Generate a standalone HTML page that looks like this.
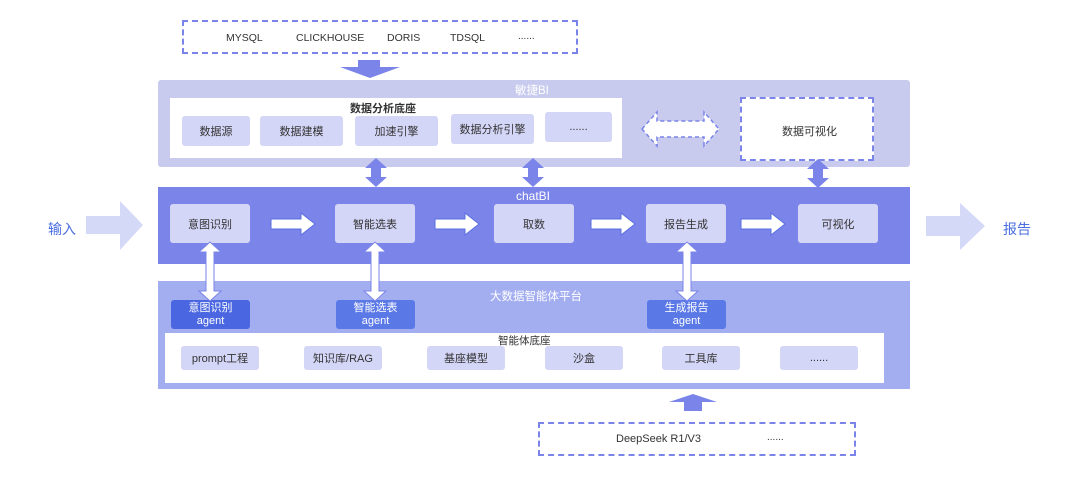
<!DOCTYPE html>
<html><head><meta charset="utf-8"><style>
*{margin:0;padding:0;box-sizing:border-box}
body{width:1080px;height:477px;background:#fff;position:relative;overflow:hidden;font-family:"Liberation Sans","Noto Sans CJK SC",sans-serif;color:#333}
.a{position:absolute}
.box{position:absolute;background:#d4d6f7;border-radius:3px;display:flex;align-items:center;justify-content:center;font-size:11px;color:#333}
.t{position:absolute;font-size:11px;text-align:center;white-space:nowrap}
.ag{position:absolute;border-radius:3px;color:#fff;font-size:11px;line-height:13px;text-align:center;display:flex;flex-direction:column;justify-content:center}
</style></head><body>
<div class="a" style="left:182px;top:20px;width:396px;height:34px;border:2px dashed #7b84e8;"></div>
<div class="t" style="left:226px;top:32px;font-size:10.5px;">MYSQL</div>
<div class="t" style="left:296px;top:32px;font-size:10.5px;">CLICKHOUSE</div>
<div class="t" style="left:387px;top:32px;font-size:10.5px;">DORIS</div>
<div class="t" style="left:450px;top:32px;font-size:10.5px;">TDSQL</div>
<div class="t" style="left:518px;top:31px;font-size:10px;">......</div>

<div class="a" style="left:158px;top:80px;width:752px;height:87px;background:#c8cbee;border-radius:3px"></div>
<div class="t" style="left:515px;top:82px;color:#fff;font-size:11.5px">敏捷BI</div>
<div class="a" style="left:170px;top:98px;width:452px;height:60px;background:#fff"></div>
<div class="t" style="left:350px;top:100px;font-weight:bold;font-size:11px">数据分析底座</div>
<div class="box" style="left:182px;top:116px;width:68px;height:30px">数据源</div>
<div class="box" style="left:260px;top:116px;width:83px;height:30px">数据建模</div>
<div class="box" style="left:355px;top:116px;width:83px;height:30px">加速引擎</div>
<div class="box" style="left:451px;top:114px;width:83px;height:30px">数据分析引擎</div>
<div class="box" style="left:545px;top:112px;width:67px;height:30px">......</div>
<div class="a" style="left:740px;top:97px;width:134px;height:64px;background:#fff;border:2px dashed #7b84e8"></div>
<div class="t" style="left:782px;top:123px">数据可视化</div>

<div class="a" style="left:158px;top:187px;width:752px;height:77px;background:#7b84e8"></div>
<div class="t" style="left:516px;top:189px;color:#fff;font-size:12px">chatBI</div>
<div class="box" style="left:170px;top:204px;width:80px;height:39px">意图识别</div>
<div class="box" style="left:335px;top:204px;width:80px;height:39px">智能选表</div>
<div class="box" style="left:494px;top:204px;width:80px;height:39px">取数</div>
<div class="box" style="left:646px;top:204px;width:80px;height:39px">报告生成</div>
<div class="box" style="left:798px;top:204px;width:80px;height:39px">可视化</div>

<div class="a" style="left:158px;top:281px;width:752px;height:108px;background:#a3aef0"></div>
<div class="t" style="left:490px;top:288px;color:#fff;font-size:11.5px">大数据智能体平台</div>
<div class="ag" style="left:171px;top:300px;width:79px;height:29px;background:#4a66e0">意图识别<br>agent</div>
<div class="ag" style="left:336px;top:300px;width:79px;height:29px;background:#5a78e6">智能选表<br>agent</div>
<div class="ag" style="left:647px;top:300px;width:79px;height:29px;background:#5a78e6">生成报告<br>agent</div>
<div class="a" style="left:165px;top:333px;width:719px;height:50px;background:#fff"></div>
<div class="t" style="left:498px;top:333px;font-size:10.5px">智能体底座</div>
<div class="box" style="left:181px;top:346px;width:78px;height:24px">prompt工程</div>
<div class="box" style="left:304px;top:346px;width:78px;height:24px">知识库/RAG</div>
<div class="box" style="left:427px;top:346px;width:78px;height:24px">基座模型</div>
<div class="box" style="left:545px;top:346px;width:78px;height:24px">沙盒</div>
<div class="box" style="left:662px;top:346px;width:78px;height:24px">工具库</div>
<div class="box" style="left:780px;top:346px;width:78px;height:24px">......</div>

<div class="a" style="left:538px;top:422px;width:318px;height:34px;border:2px dashed #7b84e8"></div>
<div class="t" style="left:616px;top:433px">DeepSeek R1/V3</div>
<div class="t" style="left:767px;top:432px;font-size:10px">......</div>

<div class="t" style="left:48px;top:219px;color:#4a6ee0;font-size:14px">输入</div>
<div class="t" style="left:1003px;top:219px;color:#4a6ee0;font-size:14px">报告</div>

<svg class="a" style="left:0;top:0" width="1080" height="477">
<defs>
<g id="ra"><polygon points="0,-5 30,-5 30,-11 44,0 30,11 30,5 0,5" fill="#fff" stroke="#5a6fe0" stroke-width="1"/></g>
<g id="vd"><polygon points="-4,9 -4,48 -11,48 0,58 11,48 4,48 4,9 11,9 0,-1 -11,9" fill="#fff" stroke="#7b84e8" stroke-width="1"/></g>
<g id="bd"><polygon points="0,0 11,10 5,10 5,19 11,19 0,29 -11,19 -5,19 -5,10 -11,10" fill="#7b84e8"/></g>
</defs>
<polygon points="358,60 380,60 380,67 400,67 370,78 340,67 358,67" fill="#7b84e8"/>
<use href="#bd" x="376" y="158"/>
<use href="#bd" x="533" y="158"/>
<use href="#bd" x="818" y="159"/>
<polygon points="642,129 657,112 657,121 704,121 704,112 719,129 704,146 704,137 657,137 657,146" fill="#fff" stroke="#7b84e8" stroke-width="1.5" stroke-dasharray="4,3"/>
<use href="#ra" x="271" y="224"/>
<use href="#ra" x="435" y="224"/>
<use href="#ra" x="591" y="224"/>
<use href="#ra" x="741" y="224"/>
<use href="#vd" x="210" y="243"/>
<use href="#vd" x="375" y="243"/>
<use href="#vd" x="687" y="243"/>
<polygon points="86,216 120,216 120,201 143,225 120,250 120,234 86,234" fill="#d4d9f7"/>
<polygon points="926,216 960,216 960,203 985,226 960,250 960,236 926,236" fill="#d4d9f7"/>
<polygon points="684,411 702,411 702,402 717,402 693,394 669,402 684,402" fill="#7b84e8"/>
</svg>
</body></html>
